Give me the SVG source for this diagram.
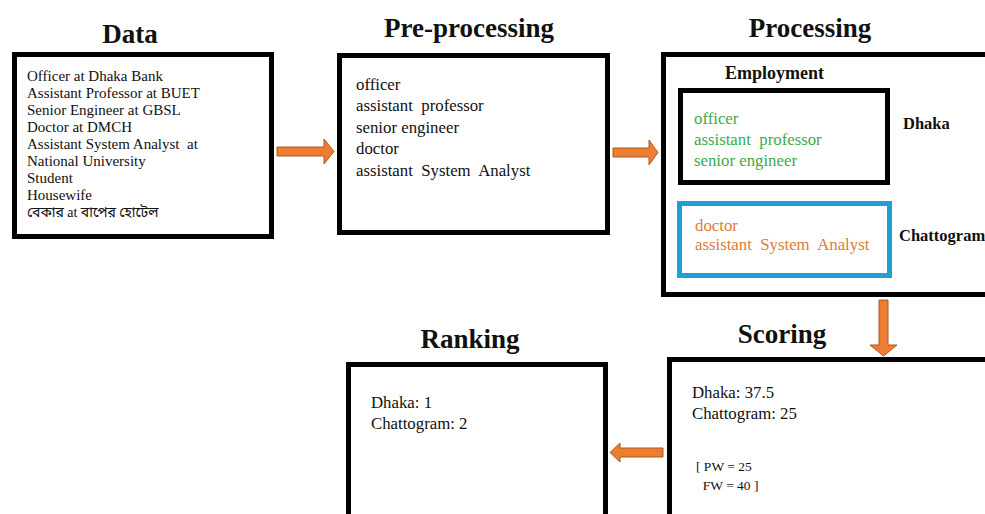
<svg xmlns="http://www.w3.org/2000/svg" width="985" height="514" viewBox="0 0 985 514">
<defs>
<style>
.box{fill:#fff;stroke:#000;stroke-width:5}
.blue{fill:#fff;stroke:#1e9fd6;stroke-width:5}
.title{font-family:"Liberation Serif","Times New Roman",serif;font-weight:bold;font-size:27px;fill:#111;text-anchor:middle}
.sub{font-family:"Liberation Serif","Times New Roman",serif;font-weight:bold;font-size:16.5px;fill:#111}
.t14{font-family:"Liberation Serif","Times New Roman","Noto Sans Bengali","Noto Serif Bengali",serif;font-size:15px;fill:#111;white-space:pre}
.t16{font-family:"Liberation Serif","Times New Roman",serif;font-size:16.8px;fill:#111;white-space:pre}
.t13{font-family:"Liberation Serif","Times New Roman",serif;font-size:13.5px;fill:#111;white-space:pre}
.green{fill:#3aaa4a}
.orange{fill:#e07b39}
.arrow{fill:#ed7d31;stroke:#ae5a21;stroke-width:1}
</style>
</defs>
<rect width="985" height="514" fill="#fff"/>

<g id="data">
<text class="title" x="130" y="43">Data</text>
<rect class="box" x="14.5" y="54.5" width="257" height="182"/>
<text class="t14" x="27" y="81">Officer at Dhaka Bank</text>
<text class="t14" x="27" y="98">Assistant Professor at BUET</text>
<text class="t14" x="27" y="115">Senior Engineer at GBSL</text>
<text class="t14" x="27" y="132">Doctor at DMCH</text>
<text class="t14" x="27" y="149" xml:space="preserve">Assistant System Analyst  at</text>
<text class="t14" x="27" y="166">National University</text>
<text class="t14" x="27" y="183">Student</text>
<text class="t14" x="27" y="200">Housewife</text>
<text class="t14" x="27" y="217" style="font-size:14px">বেকার at বাপের হোটেল</text>
</g>

<g id="preprocessing">
<text class="title" x="469" y="37">Pre-processing</text>
<rect class="box" x="339.5" y="55.5" width="268" height="177"/>
<text class="t16" x="356" y="90">officer</text>
<text class="t16" x="356" y="111" xml:space="preserve">assistant  professor</text>
<text class="t16" x="356" y="133">senior engineer</text>
<text class="t16" x="356" y="154">doctor</text>
<text class="t16" x="356" y="176" xml:space="preserve">assistant  System  Analyst</text>
</g>

<g id="processing">
<text class="title" x="810" y="37">Processing</text>
<rect class="box" x="663.5" y="54.5" width="340" height="240"/>
<text class="sub" x="725" y="79" style="font-size:18px">Employment</text>
</g>

<g id="dhaka-group">
<rect class="box" x="680.5" y="90.5" width="207" height="92"/>
<text class="t16 green" x="694" y="124">officer</text>
<text class="t16 green" x="694" y="145" xml:space="preserve">assistant  professor</text>
<text class="t16 green" x="694" y="166">senior engineer</text>
<text class="sub" x="903" y="129">Dhaka</text>
</g>

<g id="chattogram-group">
<rect class="blue" x="679.5" y="203.5" width="210" height="72"/>
<text class="t16 orange" x="695" y="231">doctor</text>
<text class="t16 orange" x="695" y="250" xml:space="preserve">assistant  System  Analyst</text>
<text class="sub" x="899" y="241">Chattogram</text>
</g>

<g id="scoring">
<text class="title" x="782" y="343">Scoring</text>
<rect class="box" x="669.5" y="359.5" width="340" height="200"/>
<text class="t16" x="692" y="398">Dhaka: 37.5</text>
<text class="t16" x="692" y="419">Chattogram: 25</text>
<text class="t13" x="696" y="471">[ PW = 25</text>
<text class="t13" x="696" y="490" xml:space="preserve">  FW = 40 ]</text>
</g>

<g id="ranking">
<text class="title" x="470" y="348">Ranking</text>
<rect class="box" x="348.5" y="364.5" width="257" height="200"/>
<text class="t16" x="371" y="408">Dhaka: 1</text>
<text class="t16" x="371" y="429">Chattogram: 2</text>
</g>

<g id="connectors">
<polygon class="arrow" points="277,147 324,147 324,139 334,151.5 324,164 324,156 277,156"/>
<polygon class="arrow" points="613,148 649,148 649,140 658,152.5 649,165 649,157 613,157"/>
<polygon class="arrow" points="879,300 888,300 888,345 897,345 883.5,356 870,345 879,345"/>
<polygon class="arrow" points="663,448 620,448 620,443 610,452.5 620,462 620,457 663,457"/>
</g>
</svg>
